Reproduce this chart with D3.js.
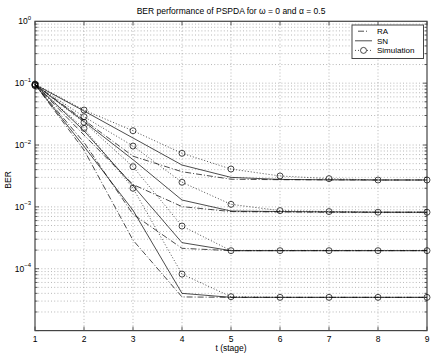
<!DOCTYPE html>
<html><head><meta charset="utf-8">
<script src="https://cdn.jsdelivr.net/npm/d3@7"></script>
<style>body{margin:0;background:#fff}svg{display:block}text{font-family:"Liberation Sans",Arial,sans-serif;fill:#000}</style>
</head><body><svg id="c" width="436" height="356"></svg>
<script>
const stages = [1,2,3,4,5,6,7,8,9];
const xTicks = [1,2,3,4,5,6,7,8,9];
const yDecades = [-5,-4,-3,-2,-1,0];
const yLabelDecades = [-4,-3,-2,-1,0];
const simG1 = [0.097, 0.0368, 0.0170, 0.00735, 0.00409, 0.00316, 0.00286, 0.00272, 0.00272];
const simG2 = [0.095, 0.0287, 0.00964, 0.00250, 0.00110, 0.00087, 0.00084, 0.00082, 0.00082];
const simG3 = [0.093, 0.0233, 0.00446, 0.00049, 0.000196, 0.000196, 0.000196, 0.000196, 0.000196];
const simG4 = [0.091, 0.0186, 0.00200, 0.000082, 0.0000353, 0.0000345, 0.0000345, 0.0000345, 0.0000345];
const snG1 = [0.095, 0.0355, 0.0130, 0.00475, 0.0030, 0.00278, 0.00274, 0.00272, 0.00272];
const snG2 = [0.095, 0.024, 0.0058, 0.00129, 0.000857, 0.00084, 0.00083, 0.00082, 0.00082];
const snG3 = [0.095, 0.017, 0.0022, 0.000264, 0.000196, 0.000196, 0.000196, 0.000196, 0.000196];
const snG4 = [0.095, 0.0095, 0.00088, 0.000040, 0.0000345, 0.0000345, 0.0000345, 0.0000345, 0.0000345];
const raG1 = [0.095, 0.0254, 0.0066, 0.0037, 0.0028, 0.00275, 0.00273, 0.00272, 0.00272];
const raG2 = [0.095, 0.0145, 0.0023, 0.00101, 0.00084, 0.00083, 0.00082, 0.00082, 0.00082];
const raG3 = [0.095, 0.011, 0.00076, 0.000214, 0.000196, 0.000196, 0.000196, 0.000196, 0.000196];
const raG4 = [0.095, 0.0083, 0.00029, 0.000035, 0.0000345, 0.0000345, 0.0000345, 0.0000345, 0.0000345];
const legendLabels = ["RA","SN","Simulation"];
const titleText = "BER performance of PSPDA for \u03C9 = 0 and \u03B1 = 0.5";

const FS = 8.5;
const svg = d3.select("#c");
const L=35, R=427, T=21.3, B=330.6;
const x = d3.scaleLinear().domain([1,9]).range([L,R]);
const y = d3.scaleLog().domain([1e-5,1]).range([B,T]);

svg.append("rect").attr("width",436).attr("height",356).attr("fill","#fff");

// grid
const g = svg.append("g").attr("stroke","#999").attr("stroke-width",0.7).attr("stroke-dasharray","1,2.2");
xTicks.slice(1,-1).forEach(t=>{
  g.append("line").attr("x1",x(t)).attr("x2",x(t)).attr("y1",T).attr("y2",B);
});
const yGrid=[];
yDecades.slice(0,-1).forEach(d=>{ for(let m=1;m<=9;m++){ yGrid.push(m*Math.pow(10,d)); } });
yGrid.filter(v=>v>1e-5*1.01).forEach(v=>{
  g.append("line").attr("x1",L).attr("x2",R).attr("y1",y(v)).attr("y2",y(v));
});

// ticks
const tk = svg.append("g").attr("stroke","#333").attr("stroke-width",0.8);
xTicks.forEach(t=>{
  tk.append("line").attr("x1",x(t)).attr("x2",x(t)).attr("y1",B).attr("y2",B-4);
  tk.append("line").attr("x1",x(t)).attr("x2",x(t)).attr("y1",T).attr("y2",T+4);
});
yGrid.forEach((v,i)=>{
  const len = (i%9===0)?4:2.5;
  tk.append("line").attr("x1",L).attr("x2",L+len).attr("y1",y(v)).attr("y2",y(v));
  tk.append("line").attr("x1",R).attr("x2",R-len).attr("y1",y(v)).attr("y2",y(v));
});

// frame
svg.append("rect").attr("x",L).attr("y",T).attr("width",R-L).attr("height",B-T)
  .attr("fill","none").attr("stroke","#444").attr("stroke-width",1.2);

// x tick labels
xTicks.forEach(t=>{
  svg.append("text").attr("x",x(t)).attr("y",341.5).attr("text-anchor","middle").attr("font-size",FS).text(t);
});
// y tick labels
yLabelDecades.forEach(d=>{
  const t = svg.append("text").attr("x",31).attr("y",y(Math.pow(10,d))+3).attr("text-anchor","end").attr("font-size",FS);
  t.append("tspan").text("10");
  t.append("tspan").attr("dy",-4.5).attr("font-size",6).text(d===0?"0":"\u2212"+(-d));
});

// labels
svg.append("text").attr("x",(L+R)/2).attr("y",14).attr("text-anchor","middle").attr("font-size",FS).text(titleText);
svg.append("text").attr("x",(L+R)/2).attr("y",350.5).attr("text-anchor","middle").attr("font-size",FS).text("t (stage)");
svg.append("text").attr("transform","translate(10.5,"+((T+B)/2+4)+") rotate(-90)").attr("text-anchor","middle").attr("font-size",FS).text("BER");

const line = d3.line().x((d,i)=>x(stages[i])).y(d=>y(d));
const plot = svg.append("g");
const styles = {ra:"6,2,1,2", sn:null, sim:"1,2"};
[raG1,raG2,raG3,raG4].forEach(s=>{
  plot.append("path").attr("d",line(s)).attr("fill","none").attr("stroke","#000").attr("stroke-width",0.7).attr("stroke-dasharray",styles.ra);
});
[snG1,snG2,snG3,snG4].forEach(s=>{
  plot.append("path").attr("d",line(s)).attr("fill","none").attr("stroke","#000").attr("stroke-width",0.7);
});
[simG1,simG2,simG3,simG4].forEach(s=>{
  plot.append("path").attr("d",line(s)).attr("fill","none").attr("stroke","#000").attr("stroke-width",0.7).attr("stroke-dasharray",styles.sim);
  s.forEach((v,i)=>{
    plot.append("circle").attr("cx",x(stages[i])).attr("cy",y(v)).attr("r",3).attr("fill","none").attr("stroke","#000").attr("stroke-width",0.7);
  });
});

// legend
const lg = svg.append("g");
lg.append("rect").attr("x",352).attr("y",25).attr("width",71.5).attr("height",33.5).attr("fill","#fff").attr("stroke","#444").attr("stroke-width",1);
const rowsY=[31.2,40.8,50.4];
legendLabels.forEach((lab,i)=>{
  const ly=rowsY[i];
  const ln = lg.append("line").attr("x1",355).attr("x2",372).attr("y1",ly).attr("y2",ly).attr("stroke","#000").attr("stroke-width",0.7);
  if(i===0) ln.attr("stroke-dasharray","0,3,6,2,1,2");
  if(i===2){ ln.attr("stroke-dasharray","1,2"); lg.append("circle").attr("cx",363.5).attr("cy",ly).attr("r",3).attr("fill","#fff").attr("stroke","#000").attr("stroke-width",0.7); }
  lg.append("text").attr("x",377).attr("y",ly+2.8).attr("font-size",8).text(lab);
});
</script></body></html>
